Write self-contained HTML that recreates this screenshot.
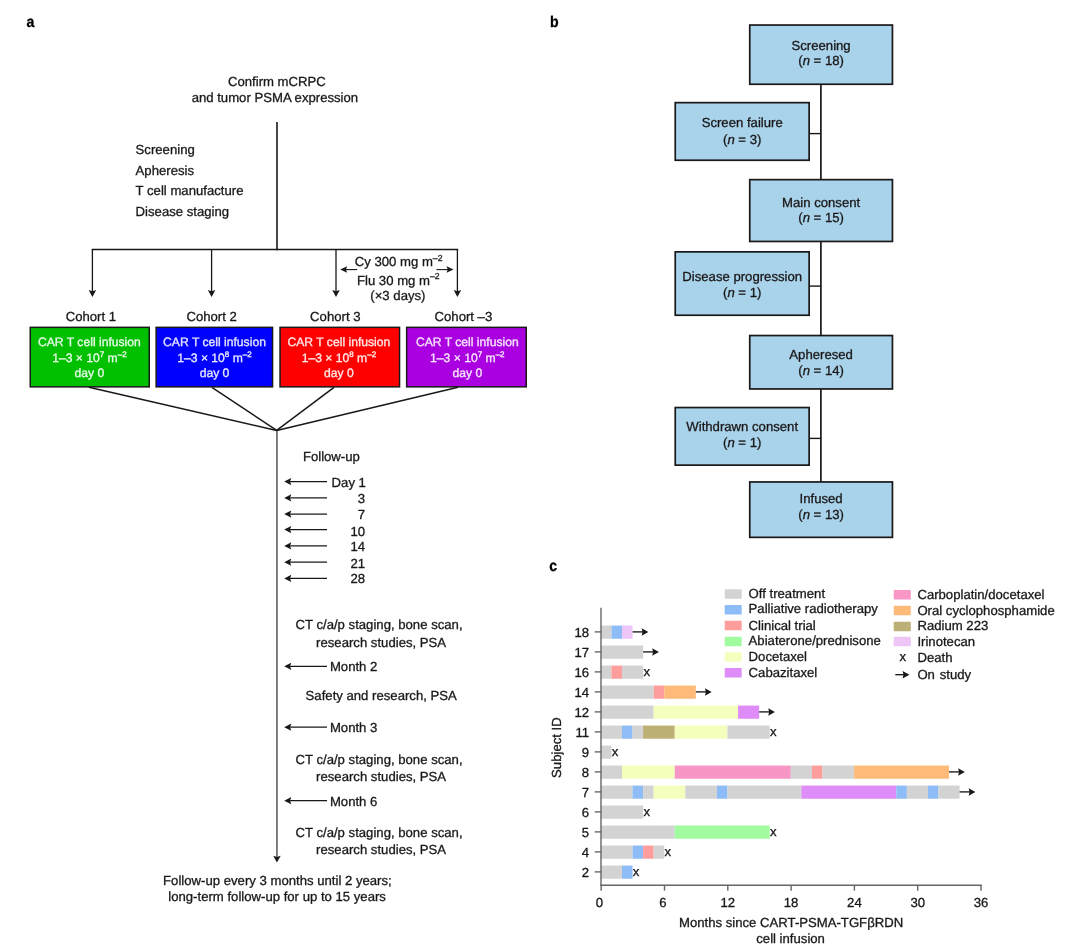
<!DOCTYPE html>
<html lang="en"><head><meta charset="utf-8"><title>Figure</title>
<style>
html,body{margin:0;padding:0;background:#fff;}
body{width:1080px;height:950px;overflow:hidden;position:relative;}
svg{position:absolute;left:0;top:0;display:block;}
svg text{font-family:"Liberation Sans",Arial,Helvetica,sans-serif;white-space:pre;stroke-width:0.3px;text-rendering:geometricPrecision;}
</style></head><body>
<svg width="1080" height="950" viewBox="0 0 1080 950">
<text transform="translate(26.5,27.1) scale(0.9,1)" font-size="15.7" font-weight="bold" fill="#000" stroke="#000" stroke-width="0.2">a</text>
<text x="276.9" y="86.1" text-anchor="middle" font-size="13.15" fill="#1a1718" stroke="#1a1718">Confirm mCRPC</text>
<text x="274.9" y="102.2" text-anchor="middle" font-size="13.15" fill="#1a1718" stroke="#1a1718">and tumor PSMA expression</text>
<text x="135.6" y="154.4" text-anchor="start" font-size="13.15" fill="#1a1718" stroke="#1a1718">Screening</text>
<text x="135.6" y="174.9" text-anchor="start" font-size="13.15" fill="#1a1718" stroke="#1a1718">Apheresis</text>
<text x="135.6" y="195.4" text-anchor="start" font-size="13.15" fill="#1a1718" stroke="#1a1718">T cell manufacture</text>
<text x="135.6" y="215.9" text-anchor="start" font-size="13.15" fill="#1a1718" stroke="#1a1718">Disease staging</text>
<line x1="277" y1="122" x2="277" y2="250.2" stroke="#1a1718" stroke-width="1.6"/>
<line x1="91.7" y1="249.5" x2="458.2" y2="249.5" stroke="#1a1718" stroke-width="1.5"/>
<line x1="92.4" y1="249.5" x2="92.4" y2="292" stroke="#1a1718" stroke-width="1.3"/>
<polygon points="92.40,296.90 88.65,290.00 92.40,291.30 96.15,290.00" fill="#1a1718"/>
<line x1="211.6" y1="249.5" x2="211.6" y2="292" stroke="#1a1718" stroke-width="1.3"/>
<polygon points="211.60,296.90 207.85,290.00 211.60,291.30 215.35,290.00" fill="#1a1718"/>
<line x1="336" y1="249.5" x2="336" y2="292" stroke="#1a1718" stroke-width="1.3"/>
<polygon points="336.00,296.90 332.25,290.00 336.00,291.30 339.75,290.00" fill="#1a1718"/>
<line x1="457.4" y1="249.5" x2="457.4" y2="292" stroke="#1a1718" stroke-width="1.3"/>
<polygon points="457.40,296.90 453.65,290.00 457.40,291.30 461.15,290.00" fill="#1a1718"/>
<text x="398.6" y="266.4" text-anchor="middle" font-size="13.15" fill="#1a1718" stroke="#1a1718">Cy 300 mg m<tspan dy="-5.65" font-size="8.68">–2</tspan></text>
<text x="398.3" y="284.7" text-anchor="middle" font-size="13.15" fill="#1a1718" stroke="#1a1718">Flu 30 mg m<tspan dy="-5.65" font-size="8.68">–2</tspan></text>
<text x="397.9" y="300" text-anchor="middle" font-size="13.15" fill="#1a1718" stroke="#1a1718">(×3 days)</text>
<line x1="344" y1="269.6" x2="357.2" y2="269.6" stroke="#1a1718" stroke-width="1.1"/>
<polygon points="340.20,269.60 347.20,266.35 345.90,269.60 347.20,272.85" fill="#1a1718"/>
<line x1="436.5" y1="269.6" x2="449.5" y2="269.6" stroke="#1a1718" stroke-width="1.1"/>
<polygon points="453.50,269.60 446.50,266.35 447.80,269.60 446.50,272.85" fill="#1a1718"/>
<text x="90.9" y="320.5" text-anchor="middle" font-size="13.15" fill="#1a1718" stroke="#1a1718">Cohort 1</text>
<text x="211.6" y="320.5" text-anchor="middle" font-size="13.15" fill="#1a1718" stroke="#1a1718">Cohort 2</text>
<text x="335.3" y="320.5" text-anchor="middle" font-size="13.15" fill="#1a1718" stroke="#1a1718">Cohort 3</text>
<text x="463.4" y="320.5" text-anchor="middle" font-size="13.15" fill="#1a1718" stroke="#1a1718">Cohort –3</text>
<rect x="30.25" y="327.35" width="119.0" height="59.5" fill="#00c000" stroke="#1a1718" stroke-width="1.5"/>
<text x="89.4" y="346.3" text-anchor="middle" font-size="12.15" fill="#ffffff" stroke="#ffffff" stroke-width="0" fill-opacity="0.84">CAR T cell infusion</text>
<text x="89.4" y="362.3" text-anchor="middle" font-size="12.15" fill="#ffffff" stroke="#ffffff" stroke-width="0" fill-opacity="0.84">1–3 × 10<tspan dy="-5.22" font-size="8.02">7</tspan><tspan dy="5.22"> m</tspan><tspan dy="-5.22" font-size="8.02">–2</tspan></text>
<text x="89.4" y="376.7" text-anchor="middle" font-size="12.15" fill="#ffffff" stroke="#ffffff" stroke-width="0" fill-opacity="0.84">day 0</text>
<rect x="156.15" y="327.35" width="116.4" height="59.5" fill="#0000ff" stroke="#1a1718" stroke-width="1.5"/>
<text x="214.5" y="346.3" text-anchor="middle" font-size="12.15" fill="#ffffff" stroke="#ffffff" stroke-width="0" fill-opacity="0.84">CAR T cell infusion</text>
<text x="214.5" y="362.3" text-anchor="middle" font-size="12.15" fill="#ffffff" stroke="#ffffff" stroke-width="0" fill-opacity="0.84">1–3 × 10<tspan dy="-5.22" font-size="8.02">8</tspan><tspan dy="5.22"> m</tspan><tspan dy="-5.22" font-size="8.02">–2</tspan></text>
<text x="214.5" y="376.7" text-anchor="middle" font-size="12.15" fill="#ffffff" stroke="#ffffff" stroke-width="0" fill-opacity="0.84">day 0</text>
<rect x="280.05" y="327.35" width="119.5" height="59.5" fill="#ff0000" stroke="#1a1718" stroke-width="1.5"/>
<text x="338.9" y="346.3" text-anchor="middle" font-size="12.15" fill="#ffffff" stroke="#ffffff" stroke-width="0" fill-opacity="0.84">CAR T cell infusion</text>
<text x="338.9" y="362.3" text-anchor="middle" font-size="12.15" fill="#ffffff" stroke="#ffffff" stroke-width="0" fill-opacity="0.84">1–3 × 10<tspan dy="-5.22" font-size="8.02">8</tspan><tspan dy="5.22"> m</tspan><tspan dy="-5.22" font-size="8.02">–2</tspan></text>
<text x="338.9" y="376.7" text-anchor="middle" font-size="12.15" fill="#ffffff" stroke="#ffffff" stroke-width="0" fill-opacity="0.84">day 0</text>
<rect x="406.65" y="327.35" width="119.60000000000002" height="59.5" fill="#aa00e1" stroke="#1a1718" stroke-width="1.5"/>
<text x="467.3" y="346.3" text-anchor="middle" font-size="12.15" fill="#ffffff" stroke="#ffffff" stroke-width="0" fill-opacity="0.84">CAR T cell infusion</text>
<text x="467.3" y="362.3" text-anchor="middle" font-size="12.15" fill="#ffffff" stroke="#ffffff" stroke-width="0" fill-opacity="0.84">1–3 × 10<tspan dy="-5.22" font-size="8.02">7</tspan><tspan dy="5.22"> m</tspan><tspan dy="-5.22" font-size="8.02">–2</tspan></text>
<text x="467.3" y="376.7" text-anchor="middle" font-size="12.15" fill="#ffffff" stroke="#ffffff" stroke-width="0" fill-opacity="0.84">day 0</text>
<line x1="89" y1="387.3" x2="276.7" y2="430.4" stroke="#1a1718" stroke-width="1.5"/>
<line x1="211.9" y1="387.3" x2="276.7" y2="430.4" stroke="#1a1718" stroke-width="1.5"/>
<line x1="334" y1="387.3" x2="276.7" y2="430.4" stroke="#1a1718" stroke-width="1.5"/>
<line x1="458" y1="387.3" x2="276.7" y2="430.4" stroke="#1a1718" stroke-width="1.5"/>
<line x1="276.95" y1="430" x2="276.95" y2="857" stroke="#1a1718" stroke-width="1.1"/>
<polygon points="276.95,862.60 273.20,855.70 276.95,857.00 280.70,855.70" fill="#1a1718"/>
<text x="302.9" y="461" text-anchor="start" font-size="13.15" fill="#1a1718" stroke="#1a1718">Follow-up</text>
<line x1="288" y1="481.6" x2="327" y2="481.6" stroke="#1a1718" stroke-width="1.2"/>
<polygon points="284.20,481.60 291.30,477.95 290.00,481.60 291.30,485.25" fill="#1a1718"/>
<line x1="288" y1="497.9" x2="327" y2="497.9" stroke="#1a1718" stroke-width="1.2"/>
<polygon points="284.20,497.90 291.30,494.25 290.00,497.90 291.30,501.55" fill="#1a1718"/>
<line x1="288" y1="514.1" x2="327" y2="514.1" stroke="#1a1718" stroke-width="1.2"/>
<polygon points="284.20,514.10 291.30,510.45 290.00,514.10 291.30,517.75" fill="#1a1718"/>
<line x1="288" y1="529.6" x2="327" y2="529.6" stroke="#1a1718" stroke-width="1.2"/>
<polygon points="284.20,529.60 291.30,525.95 290.00,529.60 291.30,533.25" fill="#1a1718"/>
<line x1="288" y1="545.9" x2="327" y2="545.9" stroke="#1a1718" stroke-width="1.2"/>
<polygon points="284.20,545.90 291.30,542.25 290.00,545.90 291.30,549.55" fill="#1a1718"/>
<line x1="288" y1="562.2" x2="327" y2="562.2" stroke="#1a1718" stroke-width="1.2"/>
<polygon points="284.20,562.20 291.30,558.55 290.00,562.20 291.30,565.85" fill="#1a1718"/>
<line x1="288" y1="578.4" x2="327" y2="578.4" stroke="#1a1718" stroke-width="1.2"/>
<polygon points="284.20,578.40 291.30,574.75 290.00,578.40 291.30,582.05" fill="#1a1718"/>
<text x="331.6" y="486.6" text-anchor="start" font-size="13.15" fill="#1a1718" stroke="#1a1718">Day 1</text>
<text x="365" y="502.6" text-anchor="end" font-size="13.15" fill="#1a1718" stroke="#1a1718">3</text>
<text x="365" y="519.1" text-anchor="end" font-size="13.15" fill="#1a1718" stroke="#1a1718">7</text>
<text x="365" y="536" text-anchor="end" font-size="13.15" fill="#1a1718" stroke="#1a1718">10</text>
<text x="365" y="551.1" text-anchor="end" font-size="13.15" fill="#1a1718" stroke="#1a1718">14</text>
<text x="365" y="568" text-anchor="end" font-size="13.15" fill="#1a1718" stroke="#1a1718">21</text>
<text x="365" y="582.8" text-anchor="end" font-size="13.15" fill="#1a1718" stroke="#1a1718">28</text>
<text x="295.5" y="628.8" text-anchor="start" font-size="13.15" fill="#1a1718" stroke="#1a1718">CT c/a/p staging, bone scan,</text>
<text x="316.1" y="646.8" text-anchor="start" font-size="13.15" fill="#1a1718" stroke="#1a1718">research studies, PSA</text>
<line x1="288" y1="666.3" x2="327" y2="666.3" stroke="#1a1718" stroke-width="1.2"/>
<polygon points="284.20,666.30 291.30,662.65 290.00,666.30 291.30,669.95" fill="#1a1718"/>
<text x="329.9" y="670.5999999999999" text-anchor="start" font-size="13.15" fill="#1a1718" stroke="#1a1718">Month 2</text>
<text x="305.6" y="700.2" text-anchor="start" font-size="13.15" fill="#1a1718" stroke="#1a1718">Safety and research, PSA</text>
<line x1="288" y1="727.2" x2="327" y2="727.2" stroke="#1a1718" stroke-width="1.2"/>
<polygon points="284.20,727.20 291.30,723.55 290.00,727.20 291.30,730.85" fill="#1a1718"/>
<text x="329.9" y="731.5" text-anchor="start" font-size="13.15" fill="#1a1718" stroke="#1a1718">Month 3</text>
<text x="295.5" y="764" text-anchor="start" font-size="13.15" fill="#1a1718" stroke="#1a1718">CT c/a/p staging, bone scan,</text>
<text x="316.1" y="780.9" text-anchor="start" font-size="13.15" fill="#1a1718" stroke="#1a1718">research studies, PSA</text>
<line x1="288" y1="800.7" x2="327" y2="800.7" stroke="#1a1718" stroke-width="1.2"/>
<polygon points="284.20,800.70 291.30,797.05 290.00,800.70 291.30,804.35" fill="#1a1718"/>
<text x="329.9" y="805.8" text-anchor="start" font-size="13.15" fill="#1a1718" stroke="#1a1718">Month 6</text>
<text x="295.5" y="836.7" text-anchor="start" font-size="13.15" fill="#1a1718" stroke="#1a1718">CT c/a/p staging, bone scan,</text>
<text x="316.1" y="854.4" text-anchor="start" font-size="13.15" fill="#1a1718" stroke="#1a1718">research studies, PSA</text>
<text x="277.4" y="885.1" text-anchor="middle" font-size="13.15" fill="#1a1718" stroke="#1a1718">Follow-up every 3 months until 2 years;</text>
<text x="277.1" y="901.2" text-anchor="middle" font-size="13.15" fill="#1a1718" stroke="#1a1718">long-term follow-up for up to 15 years</text>
<text transform="translate(549.9,27.2) scale(0.9,1)" font-size="15.7" font-weight="bold" fill="#000" stroke="#000" stroke-width="0.2">b</text>
<line x1="820.9" y1="84" x2="820.9" y2="482" stroke="#1a1718" stroke-width="1.7"/>
<rect x="749.75" y="25.05" width="142.70" height="59.20" fill="#a9d3ea" stroke="#1a1718" stroke-width="1.7"/>
<text x="821.0999999999999" y="49.6" text-anchor="middle" font-size="13.15" fill="#1a1718" stroke="#1a1718">Screening</text>
<text x="821.0999999999999" y="65.2" text-anchor="middle" font-size="13.15" fill="#1a1718" stroke="#1a1718">(<tspan font-style="italic">n</tspan> = 18)</text>
<rect x="675.25" y="102.64999999999999" width="133.90" height="57.60" fill="#a9d3ea" stroke="#1a1718" stroke-width="1.7"/>
<text x="742.2" y="127.3" text-anchor="middle" font-size="13.15" fill="#1a1718" stroke="#1a1718">Screen failure</text>
<text x="742.2" y="143.8" text-anchor="middle" font-size="13.15" fill="#1a1718" stroke="#1a1718">(<tspan font-style="italic">n</tspan> = 3)</text>
<rect x="749.75" y="179.65" width="142.70" height="61.80" fill="#a9d3ea" stroke="#1a1718" stroke-width="1.7"/>
<text x="821.0999999999999" y="206.6" text-anchor="middle" font-size="13.15" fill="#1a1718" stroke="#1a1718">Main consent</text>
<text x="821.0999999999999" y="222.4" text-anchor="middle" font-size="13.15" fill="#1a1718" stroke="#1a1718">(<tspan font-style="italic">n</tspan> = 15)</text>
<rect x="675.25" y="251.85" width="133.90" height="63.40" fill="#a9d3ea" stroke="#1a1718" stroke-width="1.7"/>
<text x="742.2" y="280.6" text-anchor="middle" font-size="13.15" fill="#1a1718" stroke="#1a1718">Disease progression</text>
<text x="742.2" y="297" text-anchor="middle" font-size="13.15" fill="#1a1718" stroke="#1a1718">(<tspan font-style="italic">n</tspan> = 1)</text>
<rect x="749.75" y="335.55" width="142.70" height="53.40" fill="#a9d3ea" stroke="#1a1718" stroke-width="1.7"/>
<text x="821.0999999999999" y="358.9" text-anchor="middle" font-size="13.15" fill="#1a1718" stroke="#1a1718">Apheresed</text>
<text x="821.0999999999999" y="374.9" text-anchor="middle" font-size="13.15" fill="#1a1718" stroke="#1a1718">(<tspan font-style="italic">n</tspan> = 14)</text>
<rect x="675.25" y="407.55" width="133.90" height="57.60" fill="#a9d3ea" stroke="#1a1718" stroke-width="1.7"/>
<text x="742.2" y="431.1" text-anchor="middle" font-size="13.15" fill="#1a1718" stroke="#1a1718">Withdrawn consent</text>
<text x="742.2" y="447.1" text-anchor="middle" font-size="13.15" fill="#1a1718" stroke="#1a1718">(<tspan font-style="italic">n</tspan> = 1)</text>
<rect x="749.75" y="481.95000000000005" width="142.70" height="55.40" fill="#a9d3ea" stroke="#1a1718" stroke-width="1.7"/>
<text x="821.0999999999999" y="503.1" text-anchor="middle" font-size="13.15" fill="#1a1718" stroke="#1a1718">Infused</text>
<text x="821.0999999999999" y="519.3" text-anchor="middle" font-size="13.15" fill="#1a1718" stroke="#1a1718">(<tspan font-style="italic">n</tspan> = 13)</text>
<line x1="809.5" y1="133.6" x2="821" y2="133.6" stroke="#1a1718" stroke-width="1.4"/>
<line x1="809.5" y1="286.1" x2="821" y2="286.1" stroke="#1a1718" stroke-width="1.4"/>
<line x1="809.5" y1="438.4" x2="821" y2="438.4" stroke="#1a1718" stroke-width="1.4"/>
<text transform="translate(549.3,571.3) scale(0.9,1)" font-size="15.7" font-weight="bold" fill="#000" stroke="#000" stroke-width="0.2">c</text>
<rect x="600.90" y="625.55" width="10.55" height="13.2" fill="#d3d3d3"/>
<rect x="611.45" y="625.55" width="10.55" height="13.2" fill="#8dbcf7"/>
<rect x="622.00" y="625.55" width="10.55" height="13.2" fill="#eec5f7"/>
<line x1="632.5500000000001" y1="631.9" x2="643.5500000000001" y2="631.9" stroke="#111" stroke-width="1.3"/>
<polygon points="648.35,631.90 641.65,628.15 642.55,631.90 641.65,635.65" fill="#1a1718"/>
<line x1="594.8" y1="631.9" x2="601.2" y2="631.9" stroke="#676566" stroke-width="1.4"/>
<text x="589.1" y="636.5" text-anchor="end" font-size="13.15" fill="#1a1718" stroke="#1a1718">18</text>
<rect x="600.90" y="645.55" width="42.20" height="13.2" fill="#d3d3d3"/>
<line x1="643.1000000000001" y1="651.9" x2="654.1000000000001" y2="651.9" stroke="#111" stroke-width="1.3"/>
<polygon points="658.90,651.90 652.20,648.15 653.10,651.90 652.20,655.65" fill="#1a1718"/>
<line x1="594.8" y1="651.9" x2="601.2" y2="651.9" stroke="#676566" stroke-width="1.4"/>
<text x="589.1" y="656.5" text-anchor="end" font-size="13.15" fill="#1a1718" stroke="#1a1718">17</text>
<rect x="600.90" y="665.55" width="10.55" height="13.2" fill="#d3d3d3"/>
<rect x="611.45" y="665.55" width="10.55" height="13.2" fill="#fd9e9d"/>
<rect x="622.00" y="665.55" width="21.10" height="13.2" fill="#d3d3d3"/>
<text x="643.4000000000001" y="675.5" text-anchor="start" font-size="13.15" fill="#1a1718" stroke="#1a1718" stroke-width="0.5">x</text>
<line x1="594.8" y1="671.9" x2="601.2" y2="671.9" stroke="#676566" stroke-width="1.4"/>
<text x="589.1" y="676.5" text-anchor="end" font-size="13.15" fill="#1a1718" stroke="#1a1718">16</text>
<rect x="600.90" y="685.55" width="52.75" height="13.2" fill="#d3d3d3"/>
<rect x="653.65" y="685.55" width="10.55" height="13.2" fill="#fd9e9d"/>
<rect x="664.20" y="685.55" width="31.65" height="13.2" fill="#fdba79"/>
<line x1="695.8500000000001" y1="691.9" x2="706.8500000000001" y2="691.9" stroke="#111" stroke-width="1.3"/>
<polygon points="711.65,691.90 704.95,688.15 705.85,691.90 704.95,695.65" fill="#1a1718"/>
<line x1="594.8" y1="691.9" x2="601.2" y2="691.9" stroke="#676566" stroke-width="1.4"/>
<text x="589.1" y="696.5" text-anchor="end" font-size="13.15" fill="#1a1718" stroke="#1a1718">14</text>
<rect x="600.90" y="705.55" width="52.75" height="13.2" fill="#d3d3d3"/>
<rect x="653.65" y="705.55" width="84.40" height="13.2" fill="#f4ffbe"/>
<rect x="738.05" y="705.55" width="21.10" height="13.2" fill="#de8cf8"/>
<line x1="759.1500000000001" y1="711.9" x2="770.1500000000001" y2="711.9" stroke="#111" stroke-width="1.3"/>
<polygon points="774.95,711.90 768.25,708.15 769.15,711.90 768.25,715.65" fill="#1a1718"/>
<line x1="594.8" y1="711.9" x2="601.2" y2="711.9" stroke="#676566" stroke-width="1.4"/>
<text x="589.1" y="716.5" text-anchor="end" font-size="13.15" fill="#1a1718" stroke="#1a1718">12</text>
<rect x="600.90" y="725.55" width="21.10" height="13.2" fill="#d3d3d3"/>
<rect x="622.00" y="725.55" width="10.55" height="13.2" fill="#8dbcf7"/>
<rect x="632.55" y="725.55" width="10.55" height="13.2" fill="#d3d3d3"/>
<rect x="643.10" y="725.55" width="31.65" height="13.2" fill="#bdb076"/>
<rect x="674.75" y="725.55" width="52.75" height="13.2" fill="#f4ffbe"/>
<rect x="727.50" y="725.55" width="42.20" height="13.2" fill="#d3d3d3"/>
<text x="770.0" y="735.5" text-anchor="start" font-size="13.15" fill="#1a1718" stroke="#1a1718" stroke-width="0.5">x</text>
<line x1="594.8" y1="731.9" x2="601.2" y2="731.9" stroke="#676566" stroke-width="1.4"/>
<text x="589.1" y="736.5" text-anchor="end" font-size="13.15" fill="#1a1718" stroke="#1a1718">11</text>
<rect x="600.90" y="745.55" width="10.55" height="13.2" fill="#d3d3d3"/>
<text x="611.75" y="755.5" text-anchor="start" font-size="13.15" fill="#1a1718" stroke="#1a1718" stroke-width="0.5">x</text>
<line x1="594.8" y1="751.9" x2="601.2" y2="751.9" stroke="#676566" stroke-width="1.4"/>
<text x="589.1" y="756.5" text-anchor="end" font-size="13.15" fill="#1a1718" stroke="#1a1718">9</text>
<rect x="600.90" y="765.55" width="21.10" height="13.2" fill="#d3d3d3"/>
<rect x="622.00" y="765.55" width="52.75" height="13.2" fill="#f4ffbe"/>
<rect x="674.75" y="765.55" width="116.05" height="13.2" fill="#f896c5"/>
<rect x="790.80" y="765.55" width="21.10" height="13.2" fill="#d3d3d3"/>
<rect x="811.90" y="765.55" width="10.55" height="13.2" fill="#fd9e9d"/>
<rect x="822.45" y="765.55" width="31.65" height="13.2" fill="#d3d3d3"/>
<rect x="854.10" y="765.55" width="94.95" height="13.2" fill="#fdba79"/>
<line x1="949.0500000000002" y1="771.9" x2="960.0500000000002" y2="771.9" stroke="#111" stroke-width="1.3"/>
<polygon points="964.85,771.90 958.15,768.15 959.05,771.90 958.15,775.65" fill="#1a1718"/>
<line x1="594.8" y1="771.9" x2="601.2" y2="771.9" stroke="#676566" stroke-width="1.4"/>
<text x="589.1" y="776.5" text-anchor="end" font-size="13.15" fill="#1a1718" stroke="#1a1718">8</text>
<rect x="600.90" y="785.55" width="31.65" height="13.2" fill="#d3d3d3"/>
<rect x="632.55" y="785.55" width="10.55" height="13.2" fill="#8dbcf7"/>
<rect x="643.10" y="785.55" width="10.55" height="13.2" fill="#d3d3d3"/>
<rect x="653.65" y="785.55" width="31.65" height="13.2" fill="#f4ffbe"/>
<rect x="685.30" y="785.55" width="31.65" height="13.2" fill="#d3d3d3"/>
<rect x="716.95" y="785.55" width="10.55" height="13.2" fill="#8dbcf7"/>
<rect x="727.50" y="785.55" width="73.85" height="13.2" fill="#d3d3d3"/>
<rect x="801.35" y="785.55" width="94.95" height="13.2" fill="#de8cf8"/>
<rect x="896.30" y="785.55" width="10.55" height="13.2" fill="#8dbcf7"/>
<rect x="906.85" y="785.55" width="21.10" height="13.2" fill="#d3d3d3"/>
<rect x="927.95" y="785.55" width="10.55" height="13.2" fill="#8dbcf7"/>
<rect x="938.50" y="785.55" width="21.10" height="13.2" fill="#d3d3d3"/>
<line x1="959.6000000000001" y1="791.9" x2="970.6000000000001" y2="791.9" stroke="#111" stroke-width="1.3"/>
<polygon points="975.40,791.90 968.70,788.15 969.60,791.90 968.70,795.65" fill="#1a1718"/>
<line x1="594.8" y1="791.9" x2="601.2" y2="791.9" stroke="#676566" stroke-width="1.4"/>
<text x="589.1" y="796.5" text-anchor="end" font-size="13.15" fill="#1a1718" stroke="#1a1718">7</text>
<rect x="600.90" y="805.55" width="42.20" height="13.2" fill="#d3d3d3"/>
<text x="643.4000000000001" y="815.5" text-anchor="start" font-size="13.15" fill="#1a1718" stroke="#1a1718" stroke-width="0.5">x</text>
<line x1="594.8" y1="811.9" x2="601.2" y2="811.9" stroke="#676566" stroke-width="1.4"/>
<text x="589.1" y="816.5" text-anchor="end" font-size="13.15" fill="#1a1718" stroke="#1a1718">6</text>
<rect x="600.90" y="825.55" width="73.85" height="13.2" fill="#d3d3d3"/>
<rect x="674.75" y="825.55" width="94.95" height="13.2" fill="#a1fca0"/>
<text x="770.0" y="835.5" text-anchor="start" font-size="13.15" fill="#1a1718" stroke="#1a1718" stroke-width="0.5">x</text>
<line x1="594.8" y1="831.9" x2="601.2" y2="831.9" stroke="#676566" stroke-width="1.4"/>
<text x="589.1" y="836.5" text-anchor="end" font-size="13.15" fill="#1a1718" stroke="#1a1718">5</text>
<rect x="600.90" y="845.55" width="31.65" height="13.2" fill="#d3d3d3"/>
<rect x="632.55" y="845.55" width="10.55" height="13.2" fill="#8dbcf7"/>
<rect x="643.10" y="845.55" width="10.55" height="13.2" fill="#fd9e9d"/>
<rect x="653.65" y="845.55" width="10.55" height="13.2" fill="#d3d3d3"/>
<text x="664.5" y="855.5" text-anchor="start" font-size="13.15" fill="#1a1718" stroke="#1a1718" stroke-width="0.5">x</text>
<line x1="594.8" y1="851.9" x2="601.2" y2="851.9" stroke="#676566" stroke-width="1.4"/>
<text x="589.1" y="856.5" text-anchor="end" font-size="13.15" fill="#1a1718" stroke="#1a1718">4</text>
<rect x="600.90" y="865.55" width="21.10" height="13.2" fill="#d3d3d3"/>
<rect x="622.00" y="865.55" width="10.55" height="13.2" fill="#8dbcf7"/>
<text x="632.85" y="875.5" text-anchor="start" font-size="13.15" fill="#1a1718" stroke="#1a1718" stroke-width="0.5">x</text>
<line x1="594.8" y1="871.9" x2="601.2" y2="871.9" stroke="#676566" stroke-width="1.4"/>
<text x="589.1" y="876.5" text-anchor="end" font-size="13.15" fill="#1a1718" stroke="#1a1718">2</text>
<line x1="601.0" y1="607.8" x2="601.0" y2="886" stroke="#676566" stroke-width="1.4"/>
<line x1="600.3" y1="885.3" x2="981.8" y2="885.3" stroke="#676566" stroke-width="1.4"/>
<line x1="601.2" y1="885.3" x2="601.2" y2="890.7" stroke="#676566" stroke-width="1.4"/>
<text x="599.5" y="906.7" text-anchor="middle" font-size="13.15" fill="#1a1718" stroke="#1a1718">0</text>
<line x1="664.5" y1="885.3" x2="664.5" y2="890.7" stroke="#676566" stroke-width="1.4"/>
<text x="662.8" y="906.7" text-anchor="middle" font-size="13.15" fill="#1a1718" stroke="#1a1718">6</text>
<line x1="727.8000000000001" y1="885.3" x2="727.8000000000001" y2="890.7" stroke="#676566" stroke-width="1.4"/>
<text x="727.8000000000001" y="906.7" text-anchor="middle" font-size="13.15" fill="#1a1718" stroke="#1a1718">12</text>
<line x1="791.1" y1="885.3" x2="791.1" y2="890.7" stroke="#676566" stroke-width="1.4"/>
<text x="791.1" y="906.7" text-anchor="middle" font-size="13.15" fill="#1a1718" stroke="#1a1718">18</text>
<line x1="854.4000000000001" y1="885.3" x2="854.4000000000001" y2="890.7" stroke="#676566" stroke-width="1.4"/>
<text x="854.4000000000001" y="906.7" text-anchor="middle" font-size="13.15" fill="#1a1718" stroke="#1a1718">24</text>
<line x1="917.7" y1="885.3" x2="917.7" y2="890.7" stroke="#676566" stroke-width="1.4"/>
<text x="917.7" y="906.7" text-anchor="middle" font-size="13.15" fill="#1a1718" stroke="#1a1718">30</text>
<line x1="981.0" y1="885.3" x2="981.0" y2="890.7" stroke="#676566" stroke-width="1.4"/>
<text x="981.0" y="906.7" text-anchor="middle" font-size="13.15" fill="#1a1718" stroke="#1a1718">36</text>
<text x="791.1" y="927.1" text-anchor="middle" font-size="13.15" fill="#1a1718" stroke="#1a1718">Months since CART-PSMA-TGFβRDN</text>
<text x="790.6" y="942.7" text-anchor="middle" font-size="13.15" fill="#1a1718" stroke="#1a1718">cell infusion</text>
<text transform="translate(560.6,747.6) rotate(-90)" text-anchor="middle" font-size="13.15" fill="#1a1718" stroke="#1a1718">Subject ID</text>
<rect x="724.7" y="589.15" width="17" height="9.5" rx="0.9" fill="#d3d3d3"/>
<text x="748.6" y="597.8" text-anchor="start" font-size="13.15" fill="#1a1718" stroke="#1a1718">Off treatment</text>
<rect x="724.7" y="605.05" width="17" height="9.5" rx="0.9" fill="#8dbcf7"/>
<text x="748.6" y="613.4" text-anchor="start" font-size="13.15" fill="#1a1718" stroke="#1a1718">Palliative radiotherapy</text>
<rect x="724.7" y="620.85" width="17" height="9.5" rx="0.9" fill="#fd9e9d"/>
<text x="748.6" y="629.5" text-anchor="start" font-size="13.15" fill="#1a1718" stroke="#1a1718">Clinical trial</text>
<rect x="724.7" y="636.75" width="17" height="9.5" rx="0.9" fill="#a1fca0"/>
<text x="748.6" y="645.3" text-anchor="start" font-size="13.15" fill="#1a1718" stroke="#1a1718">Abiaterone/prednisone</text>
<rect x="724.7" y="652.15" width="17" height="9.5" rx="0.9" fill="#f4ffbe"/>
<text x="748.6" y="660.8" text-anchor="start" font-size="13.15" fill="#1a1718" stroke="#1a1718">Docetaxel</text>
<rect x="724.7" y="668.05" width="17" height="9.5" rx="0.9" fill="#de8cf8"/>
<text x="748.6" y="676.7" text-anchor="start" font-size="13.15" fill="#1a1718" stroke="#1a1718">Cabazitaxel</text>
<rect x="893.7" y="590.05" width="17.1" height="9.5" rx="0.9" fill="#f896c5"/>
<text x="917.4" y="598.7" text-anchor="start" font-size="13.15" fill="#1a1718" stroke="#1a1718">Carboplatin/docetaxel</text>
<rect x="893.7" y="605.65" width="17.1" height="9.5" rx="0.9" fill="#fdba79"/>
<text x="917.4" y="614.7" text-anchor="start" font-size="13.15" fill="#1a1718" stroke="#1a1718">Oral cyclophosphamide</text>
<rect x="893.7" y="621.65" width="17.1" height="9.5" rx="0.9" fill="#bdb076"/>
<text x="917.4" y="630.3" text-anchor="start" font-size="13.15" fill="#1a1718" stroke="#1a1718">Radium 223</text>
<rect x="893.7" y="636.75" width="17.1" height="9.5" rx="0.9" fill="#eec5f7"/>
<text x="917.4" y="645.5" text-anchor="start" font-size="13.15" fill="#1a1718" stroke="#1a1718">Irinotecan</text>
<text x="899.6" y="661.2" text-anchor="start" font-size="13.15" fill="#1a1718" stroke="#1a1718" stroke-width="0.5">x</text>
<text x="917.4" y="661.7" text-anchor="start" font-size="13.15" fill="#1a1718" stroke="#1a1718">Death</text>
<line x1="895.3" y1="674.7" x2="904" y2="674.7" stroke="#111" stroke-width="1.3"/>
<polygon points="909.40,674.70 902.60,670.95 903.50,674.70 902.60,678.45" fill="#1a1718"/>
<text x="917.4" y="679.4" text-anchor="start" font-size="13.15" fill="#1a1718" stroke="#1a1718" word-spacing="1.2">On study</text>
</svg>
</body></html>
